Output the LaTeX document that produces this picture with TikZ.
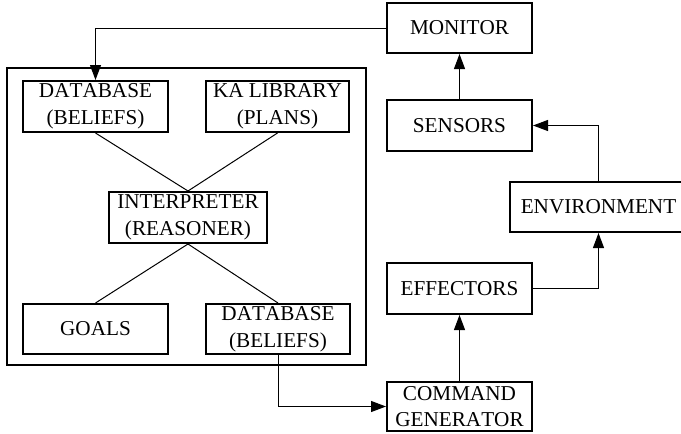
\documentclass[tikz,border=0pt]{standalone}
\usepackage{fontspec}
\setmainfont{Liberation Serif}[Kerning=Off]
\usetikzlibrary{arrows.meta}
\begin{document}
\begin{tikzpicture}[x=1pt,y=-1pt,
  blk/.style={draw, line width=2pt, inner sep=0pt, align=center,
    font=\fontsize{21.2}{26.6}\selectfont},
  link/.style={line width=1pt},
  arr/.style={line width=1pt, -{Triangle[length=15pt,width=11pt]}}]
\useasboundingbox (0,0) rectangle (681,434);
% agent system frame
\node[draw, line width=2pt, minimum width=359pt, minimum height=297pt] (sys) at (186.5,216.5) {};
% inner components
\node[blk, minimum width=145pt, minimum height=51pt] (db1) at (95.5,106.5) {DATABASE\\(BELIEFS)};
\node[blk, minimum width=143pt, minimum height=51pt] (ka) at (277.5,106.5) {KA LIBRARY\\(PLANS)};
\node[blk, minimum width=158pt, minimum height=51pt] (interp) at (188,217.5) {INTERPRETER\\(REASONER)};
\node[blk, minimum width=145pt, minimum height=50pt] (goals) at (95.5,329) {GOALS};
\node[blk, minimum width=144pt, minimum height=50pt] (db2) at (278,329) {DATABASE\\(BELIEFS)};
% outer loop (the environment box runs past the right margin)
\node[blk, minimum width=145pt, minimum height=50pt] (mon) at (459.5,28) {MONITOR};
\node[blk, minimum width=145pt, minimum height=51pt] (sen) at (459.5,125.5) {SENSORS};
\node[blk, minimum width=177pt, minimum height=50pt] (env) at (598.5,207) {ENVIRONMENT};
\node[blk, minimum width=145pt, minimum height=51pt] (eff) at (459.5,288.5) {EFFECTORS};
\node[blk, minimum width=145pt, minimum height=49pt] (cmd) at (459.5,406.5) {COMMAND\\GENERATOR};
% connectors
\draw[link] (db1.south) -- (interp.north);
\draw[link] (ka.south) -- (interp.north);
\draw[link] (interp.south) -- (goals.north);
\draw[link] (interp.south) -- (db2.north);
\draw[arr] (mon.west) -| (db1.north);
\draw[arr] (db2.south) |- (cmd.west);
\draw[arr] (cmd.north) -- (eff.south);
\draw[arr] (eff.east) -| (env.south);
\draw[arr] (env.north) |- (sen.east);
\draw[arr] (sen.north) -- (mon.south);
\end{tikzpicture}
\end{document}
